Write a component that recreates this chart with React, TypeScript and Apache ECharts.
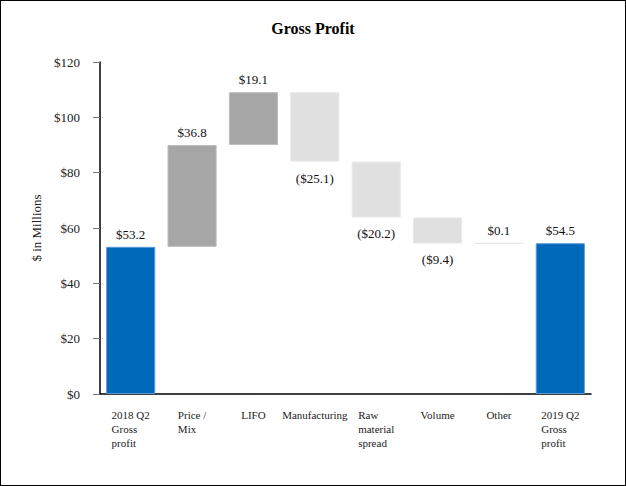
import React, { useEffect, useRef } from "react";
import * as echarts from "echarts";

const categories = [
  "2018 Q2\nGross\nprofit",
  "Price /\nMix",
  "LIFO",
  "Manufacturing",
  "Raw\nmaterial\nspread",
  "Volume",
  "Other",
  "2019 Q2\nGross\nprofit",
];
// change for each step; totals are the full value
const changes = [53.2, 36.8, 19.1, -25.1, -20.2, -9.4, 0.1, 54.5];
const kinds = ["total", "up", "up", "down", "down", "down", "small", "total"];
const yTicks = [0, 20, 40, 60, 80, 100, 120];

const COLORS: Record<string, string> = {
  total: "#0068B8",
  up: "#A6A6A6",
  down: "#E0E0E0",
  small: "#E0E0E0",
};
const BORDERS: Record<string, string> = {
  total: "#5B9BD5",
  up: "#BDBDBD",
  down: "#E8E8E8",
  small: "#E8E8E8",
};

const FONT = "'Liberation Serif', 'Times New Roman', serif";

export default function App() {
  const ref = useRef<HTMLDivElement>(null);
  useEffect(() => {
    document.body.style.margin = "0";
    if (!ref.current) return;
    const chart = echarts.init(ref.current, undefined, { renderer: "svg" });

    const bases: number[] = [];
    const heights: number[] = [];
    let running = 0;
    changes.forEach((c, i) => {
      if (kinds[i] === "total") {
        bases.push(0);
        heights.push(c);
        running = c;
      } else if (c >= 0) {
        bases.push(running);
        heights.push(c);
        running += c;
      } else {
        bases.push(running + c);
        heights.push(-c);
        running += c;
      }
    });

    const fmt = (v: number) =>
      v < 0 ? `($${Math.abs(v).toFixed(1)})` : `$${v.toFixed(1)}`;

    chart.setOption({
      animation: false,
      textStyle: { fontFamily: FONT },
      title: {
        text: "Gross Profit",
        left: "center",
        top: 14,
        textStyle: { fontFamily: FONT, fontSize: 16, fontWeight: "bold", color: "#000" },
      },
      grid: { left: 99, right: 34, top: 61, bottom: 91 },
      xAxis: {
        type: "category",
        data: categories,
        axisLine: { lineStyle: { color: "#000", width: 1.5 } },
        axisTick: { alignWithLabel: true, length: 6, lineStyle: { color: "#555" } },
        axisLabel: {
          margin: 14,
          interval: 0,
          formatter: (v: string) =>
            v
              .split("\n")
              .map((s) => `{l|${s}}`)
              .join("\n"),
          rich: {
            l: {
              align: "left",
              fontFamily: FONT,
              fontSize: 11,
              lineHeight: 14,
              color: "#222",
            },
          },
        },
      },
      yAxis: {
        type: "value",
        min: 0,
        max: yTicks[yTicks.length - 1],
        interval: 20,
        name: "$ in Millions",
        nameLocation: "middle",
        nameRotate: 90,
        nameGap: 55,
        nameTextStyle: { fontFamily: FONT, fontSize: 13, color: "#222" },
        splitLine: { show: false },
        axisLine: { show: true, lineStyle: { color: "#000", width: 1.5 } },
        axisTick: { show: true, length: 7, lineStyle: { color: "#777" } },
        axisLabel: {
          margin: 20,
          formatter: (v: number) => `$${v}`,
          fontFamily: FONT,
          fontSize: 13,
          color: "#222",
        },
      },
      series: [
        {
          type: "bar",
          stack: "w",
          data: bases,
          itemStyle: { color: "transparent" },
          emphasis: { disabled: true },
          silent: true,
          barCategoryGap: "20%",
        },
        {
          type: "bar",
          stack: "w",
          barCategoryGap: "20%",
          data: heights.map((h, i) => {
            const neg = changes[i] < 0;
            return {
              value: h,
              itemStyle: {
                color: COLORS[kinds[i]],
                borderColor: BORDERS[kinds[i]],
                borderWidth: 1,
              },
              label: {
                show: true,
                position: neg ? "bottom" : "top",
                distance: neg ? 10 : 6,
                formatter: () => fmt(changes[i]),
                fontFamily: FONT,
                fontSize: 13,
                color: "#111",
              },
            };
          }),
        },
      ],
    });
    return () => chart.dispose();
  }, []);

  return (
    <div
      style={{
        width: 626,
        height: 486,
        boxSizing: "border-box",
        border: "1px solid #000",
        background: "#fff",
      }}
    >
      <div ref={ref} style={{ width: 624, height: 484 }} />
    </div>
  );
}
